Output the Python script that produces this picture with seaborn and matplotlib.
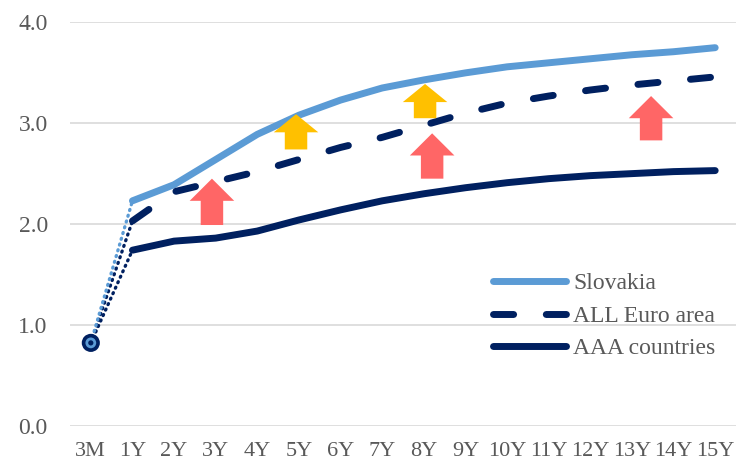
import matplotlib
matplotlib.use('Agg')
import matplotlib.pyplot as plt
import pandas as pd
import seaborn as sns
from matplotlib.patches import FancyArrow
from matplotlib.lines import Line2D

# Data (yield curves, %)
tenors = ['3M', '1Y', '2Y', '3Y', '4Y', '5Y', '6Y', '7Y', '8Y', '9Y',
          '10Y', '11Y', '12Y', '13Y', '14Y', '15Y']
slovakia = [0.82, 2.23, 2.39, 2.64, 2.89, 3.08, 3.23, 3.35, 3.43, 3.50,
            3.56, 3.60, 3.64, 3.68, 3.71, 3.75]
euro_area = [0.82, 2.03, 2.32, 2.42, 2.52, 2.64, 2.76, 2.86, 2.98, 3.10,
             3.20, 3.27, 3.33, 3.38, 3.42, 3.46]
aaa = [0.82, 1.74, 1.83, 1.86, 1.93, 2.04, 2.14, 2.23, 2.30, 2.36,
       2.41, 2.45, 2.48, 2.50, 2.52, 2.53]

# annotation arrows: (x position, bottom, tip)
red_arrows = [(2.91, 1.99, 2.45), (8.20, 2.45, 2.90), (13.46, 2.83, 3.27)]
yellow_arrows = [(4.93, 2.74, 3.09), (8.03, 3.05, 3.39)]

light_blue = '#5B9BD5'
navy = '#002060'
grey = '#595959'

df = pd.DataFrame({'pos': range(len(tenors)), 'tenor': tenors,
                   'Slovakia': slovakia, 'ALL Euro area': euro_area,
                   'AAA countries': aaa})

sns.set_style('white')
plt.rcParams['font.family'] = ['Liberation Serif', 'DejaVu Serif']

fig = plt.figure(figsize=(7.37, 4.66), dpi=100)
ax = fig.add_axes([70 / 737, 40.5 / 466, 666 / 737, 403 / 466])

# dotted links from 3M to 1Y
for name, col in [('AAA countries', navy), ('ALL Euro area', navy), ('Slovakia', light_blue)]:
    sns.lineplot(data=df.iloc[:2], x='pos', y=name, color=col, lw=2.4,
                 linestyle=(0, (0.3, 1.5)), dash_capstyle='round', ax=ax, legend=False)

# main curves
styles = {'Slovakia': (light_blue, '-'),
          'ALL Euro area': (navy, (0, (2.9, 4.7))),
          'AAA countries': (navy, '-')}
for name, (col, ls) in styles.items():
    sns.lineplot(data=df.iloc[1:], x='pos', y=name, color=col, lw=5, linestyle=ls,
                 solid_capstyle='round', dash_capstyle='round', ax=ax, legend=False)

# 3M marker
sns.scatterplot(data=df.iloc[:1], x='pos', y='AAA countries', s=170, color=navy,
                edgecolor='none', ax=ax, zorder=5, legend=False)
sns.scatterplot(data=df.iloc[:1], x='pos', y='Slovakia', s=60, color=light_blue,
                edgecolor='none', ax=ax, zorder=6, legend=False)
sns.scatterplot(data=df.iloc[:1], x='pos', y='ALL Euro area', s=14, color=navy,
                edgecolor='none', ax=ax, zorder=7, legend=False)

# arrows
for arrows, col, hl in [(red_arrows, '#FF6666', 0.22), (yellow_arrows, '#FFC000', 0.18)]:
    for x, y0, y1 in arrows:
        ax.add_patch(FancyArrow(x, y0, 0, y1 - y0, width=0.54, head_width=1.07,
                                head_length=hl, length_includes_head=True,
                                color=col, lw=0, zorder=8))

ax.set_xlim(-0.5, 15.5)
ax.set_ylim(0, 4)
ax.set_xticks(df['pos'])
ax.set_xticklabels(tenors)
ax.set_yticks([0, 1, 2, 3, 4])
ax.set_yticklabels([f'{v:.1f}' for v in [0, 1, 2, 3, 4]])
ax.set_xlabel('')
ax.set_ylabel('')
ax.yaxis.grid(True, color='#D9D9D9', lw=1.2)
ax.xaxis.grid(False)
ax.set_axisbelow(True)
for s in ax.spines.values():
    s.set_visible(False)
ax.tick_params(axis='both', length=0, labelsize=17, colors=grey)
ax.tick_params(axis='y', pad=16)
ax.tick_params(axis='x', pad=12, labelsize=16)

handles = [Line2D([], [], color=light_blue, lw=5, solid_capstyle='round'),
           Line2D([], [], color=navy, lw=5, linestyle=(0, (2.9, 4.7)), dash_capstyle='round'),
           Line2D([], [], color=navy, lw=5, solid_capstyle='round')]
leg = ax.legend(handles, ['Slovakia', 'ALL Euro area', 'AAA countries'],
                loc='center left', bbox_to_anchor=(493 / 737, (466 - 316) / 466),
                bbox_transform=fig.transFigure, frameon=False, fontsize=17,
                handlelength=3.1, handletextpad=0.3, labelspacing=0.47,
                borderpad=0, borderaxespad=0)
for t in leg.get_texts():
    t.set_color(grey)

fig.savefig('out.png', dpi=100)
